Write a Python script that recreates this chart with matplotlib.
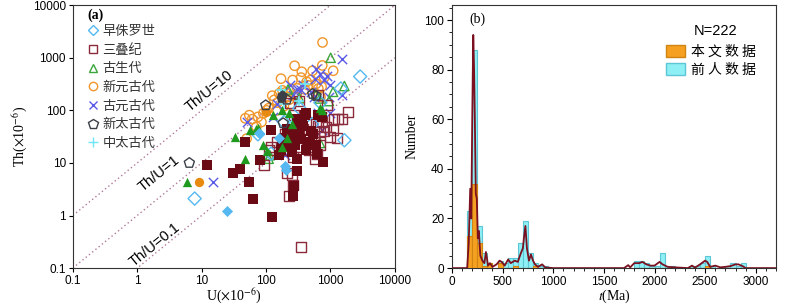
import matplotlib
matplotlib.use("Agg")
import matplotlib.pyplot as plt
from matplotlib.lines import Line2D
from matplotlib.patches import Patch
import matplotlib.ticker as mtick
import numpy as np

plt.rcParams['font.family'] = ['Liberation Sans', 'Noto Sans CJK SC', 'DejaVu Sans']
plt.rcParams['mathtext.fontset'] = 'stix'

cjk = ['Noto Sans CJK SC', 'DejaVu Sans']
serif = ['Liberation Serif', 'DejaVu Serif']

# ---- (a) Th vs U ----
jur_u = [7.8, 2900, 1650, 330, 1450, 190, 120, 75, 250, 520, 700]
jur_th = [2.1, 440, 27, 110, 260, 60, 15, 35, 40, 55, 140]
jur_f_u = [25, 200, 205, 78, 160]
jur_f_th = [1.2, 8.8, 7.5, 37, 30]

tri_u = [350, 225, 265, 255, 210, 92, 1900, 1500, 1300, 1150, 900, 1100, 1000, 1250, 570,
         620, 700, 800, 440, 500, 560, 380, 300, 260, 230, 190, 150, 120, 110, 330, 420,
         480, 650, 750, 850, 280, 200, 320, 640, 270, 240, 560, 700, 460]
tri_th = [0.25, 2.4, 3.8, 5.8, 6.4, 9.2, 93, 68, 68, 68, 126, 42, 31.6, 30, 12,
          15, 22, 40, 20, 25, 30, 45, 20, 13, 18, 22, 25, 20, 18, 40, 60,
          55, 50, 60, 48, 30, 35, 150, 200, 80, 140, 30, 38, 18]
tri_f_u = [12, 31, 40, 54, 62, 125, 48, 120, 80, 260, 270, 300, 305, 610, 780, 305, 420,
           730, 180, 200, 220, 240, 260, 280, 300, 330, 360, 400, 450, 500, 540, 650,
           170, 190, 230, 250, 280, 350, 380, 420, 480, 210, 320, 600, 160]
tri_f_th = [9, 6.3, 7.7, 4.4, 2.1, 0.95, 25, 42, 11.4, 2.3, 3.6, 6.9, 11.7, 15, 10.5, 68, 88,
            75, 25, 22, 35, 20, 30, 40, 55, 45, 60, 80, 25, 40, 35, 80,
            18, 30, 20, 16, 22, 28, 50, 18, 24, 45, 35, 22, 14]

pal_u = [1010, 1650, 680, 1100, 690, 110, 115, 950, 600, 220, 330]
pal_th = [1000, 290, 168, 225, 24, 12, 14, 150, 200, 250, 170]
pal_f_u = [6, 33, 48, 57, 76, 89, 105, 180, 210, 180, 730, 70, 130, 250, 230, 700]
pal_f_th = [4.4, 31.6, 12, 43, 45.6, 22, 17, 20, 30, 100, 100, 45, 80, 55, 90, 110]

neo_u = [755, 278, 171, 259, 360, 528, 748, 1105, 305, 428, 730, 125, 134, 47.7, 55, 61,
         91, 102, 71, 50, 255, 147, 200, 300, 400, 450, 600, 650, 220, 160, 230, 180,
         350, 500, 800, 240, 190, 150, 290, 700, 85, 75, 110]
neo_th = [1955, 705, 400, 377, 542, 566, 715, 566, 262, 350, 282, 190, 158, 70.5, 81, 68,
          88, 100, 49, 29, 41, 100, 220, 200, 250, 300, 320, 260, 180, 210, 160, 240,
          420, 380, 420, 130, 120, 140, 180, 180, 60, 75, 110]
neo_f_u = [9.2, 100]
neo_f_th = [4.4, 95]

pro_u = [1490, 235, 1530, 985, 50, 200, 200, 420, 750, 15.2, 600, 700, 900, 1000, 800, 580,
         500, 380, 300, 260, 150, 130, 550, 950, 650, 350]
pro_th = [929, 302, 195, 88, 61, 20, 14, 25, 42, 4.4, 600, 500, 450, 300, 380, 400,
          220, 300, 250, 200, 130, 75, 180, 180, 90, 240]

arc_u = [6.45, 99, 530, 185, 210, 600]
arc_th = [10, 125, 205, 57, 160, 190]
arc_f_u = [175, 180, 170]
arc_f_th = [190, 200, 175]

mes_u = [400, 170, 190, 320, 250]
mes_th = [320, 240, 130, 150, 60]

ratios = [10, 1, 0.1]
ratio_labels = ['Th/U=10', 'Th/U=1', 'Th/U=0.1']

# ---- (b) histogram, 50 Ma bins ----
bin_left = [150, 200, 250, 300, 350, 450, 500, 550, 600, 650, 700, 750, 800, 850, 900,
            1800, 1850, 1900, 1950, 2000, 2050, 2100, 2150, 2350, 2400, 2450, 2500, 2550,
            2700, 2750, 2800, 2850]
prev_cnt = [23, 88, 17, 6, 2, 3, 2, 4, 4, 10, 19, 6, 2, 1, 1,
            3, 3, 2, 1, 1, 6, 1, 1, 1, 1, 2, 5, 1,
            1, 2, 1, 2]
this_cnt = [13, 34, 10, 1, 2, 2, 0, 0, 1, 0, 0, 0, 1, 0, 0,
            0, 0, 0, 0, 0, 0, 0, 0, 0, 0, 0, 1, 0,
            0, 0, 0, 0]

curve_t = [0, 150, 165, 180, 190, 200, 210, 218, 225, 235, 245, 255, 265, 280, 300, 320, 335,
           345, 355, 375, 400, 440, 470, 490, 520, 555, 580, 620, 650, 680, 700, 710, 725,
           740, 760, 780, 800, 820, 850, 890, 920, 1000, 1700, 1740, 1760, 1800, 1850, 1880,
           1920, 1960, 2000, 2050, 2080, 2130, 2200, 2330, 2370, 2400, 2450, 2500, 2520,
           2550, 2600, 2650, 2700, 2750, 2800, 2830, 2870, 2900, 3200]
curve_n = [0, 0, 10, 32, 20, 60, 94, 80, 62, 30, 28, 12, 15, 5, 3, 2, 6.5,
           4, 1, 2, 0.5, 1.5, 3, 2.5, 1, 3.5, 2, 3, 2.5, 6, 8, 12, 17,
           8, 3, 5.5, 3, 1.5, 0.5, 1.5, 0.3, 0, 0, 1.2, 0.3, 2, 2, 2.5,
           1.5, 1, 1, 2.5, 1.5, 0.5, 0.3, 0, 1, 0.2, 1.5, 3, 2.5,
           0.5, 1, 0.3, 0.5, 0.8, 1.5, 1.5, 0.8, 0, 0]

fig = plt.figure(figsize=(8, 3.05), dpi=100)
ax1 = fig.add_axes([0.091, 0.121, 0.4025, 0.862])
ax2 = fig.add_axes([0.565, 0.121, 0.405, 0.862])

c_jur = '#55b8f0'
c_tri = '#8b2a3a'
c_tri_f = '#6a0a14'
c_pal = '#3aa63a'
c_pal_f = '#1f9a1f'
c_neo = '#f0962a'
c_pro = '#5a5ae6'
c_arc = '#3a3f48'
c_mes = '#6ee6f5'

ax1.set_xscale('log')
ax1.set_yscale('log')
ax1.set_xlim(0.1, 10000)
ax1.set_ylim(0.1, 10000)

xx = np.array([0.1, 10000])
for r in ratios:
    ax1.plot(xx, xx * r, linestyle=(0, (1, 2)), color='#b07a9a', lw=1.0, zorder=1)

ax1.text(13, 230, ratio_labels[0], rotation=39, ha='center', va='center', fontsize=10.5)
ax1.text(2.2, 6.2, ratio_labels[1], rotation=39, ha='center', va='center', fontsize=10.5)
ax1.text(1.9, 0.28, ratio_labels[2], rotation=39, ha='center', va='center', fontsize=10.5)

ms = 45
ax1.scatter(neo_u, neo_th, s=ms, facecolors='none', edgecolors=c_neo, linewidths=1.0, zorder=2)
ax1.scatter(pro_u, pro_th, s=ms, marker='x', color=c_pro, linewidths=1.0, zorder=2)
ax1.scatter(pal_u, pal_th, s=ms, marker='^', facecolors='none', edgecolors=c_pal, linewidths=1.0, zorder=2)
ax1.scatter(tri_u, tri_th, s=52, marker='s', facecolors='none', edgecolors=c_tri, linewidths=1.0, zorder=3)
ax1.scatter(jur_u, jur_th, s=ms, marker='D', facecolors='none', edgecolors=c_jur, linewidths=1.0, zorder=3)
ax1.scatter(mes_u, mes_th, s=ms, marker='+', color=c_mes, linewidths=1.2, zorder=3)
ax1.scatter(tri_f_u, tri_f_th, s=52, marker='s', color=c_tri_f, linewidths=0, zorder=4)
ax1.scatter(pal_f_u, pal_f_th, s=ms, marker='^', color=c_pal_f, linewidths=0, zorder=4)
ax1.scatter(jur_f_u, jur_f_th, s=32, marker='D', color=c_jur, linewidths=0, zorder=4)
ax1.scatter(neo_f_u, neo_f_th, s=ms, color='#e88a10', linewidths=0, zorder=4)
ax1.scatter(arc_u, arc_th, s=58, marker='p', facecolors='none', edgecolors=c_arc, linewidths=1.0, zorder=5)
ax1.scatter(arc_f_u, arc_f_th, s=58, marker='p', color=c_arc, linewidths=0, zorder=5)

ax1.xaxis.set_major_locator(mtick.LogLocator(base=10, numticks=10))
ax1.yaxis.set_major_locator(mtick.LogLocator(base=10, numticks=10))
ax1.xaxis.set_minor_locator(mtick.NullLocator())
ax1.yaxis.set_minor_locator(mtick.NullLocator())
fmt = mtick.FuncFormatter(lambda v, p: ('%g' % v))
ax1.xaxis.set_major_formatter(fmt)
ax1.yaxis.set_major_formatter(fmt)
ax1.tick_params(labelsize=8.5, length=3, width=0.8, pad=2)
ax1.set_xlabel(r'U($\times$10$^{-6}$)', family=serif, fontsize=10, labelpad=0)
ax1.set_ylabel(r'Th($\times$10$^{-6}$)', family=serif, fontsize=10, labelpad=2)
ax1.text(0.045, 0.96, '(a)', transform=ax1.transAxes, family=serif, fontweight='bold',
         fontsize=10, ha='left', va='center')

handles = [
    Line2D([], [], ls='none', marker='D', ms=5, mfc='none', mec=c_jur),
    Line2D([], [], ls='none', marker='s', ms=6, mfc='none', mec=c_tri),
    Line2D([], [], ls='none', marker='^', ms=6, mfc='none', mec=c_pal),
    Line2D([], [], ls='none', marker='o', ms=6, mfc='none', mec=c_neo),
    Line2D([], [], ls='none', marker='x', ms=6, color=c_pro),
    Line2D([], [], ls='none', marker='p', ms=7, mfc='none', mec=c_arc),
    Line2D([], [], ls='none', marker='+', ms=7, color=c_mes),
]
labels = ['早侏罗世', '三叠纪', '古生代', '新元古代', '古元古代', '新太古代', '中太古代']
leg = ax1.legend(handles, labels, loc='upper left', bbox_to_anchor=(0.045, 0.925),
                 frameon=False, prop={'family': cjk, 'size': 9.5},
                 handlelength=0.8, handletextpad=0.35, labelspacing=0.43,
                 borderaxespad=0, borderpad=0)
for t in leg.get_texts():
    t.set_color('#333333')

# ---- (b) ----
ax2.bar(bin_left, prev_cnt, width=50, align='edge', color='#8ef0f4', edgecolor='#5cc6d6',
        linewidth=0.8, zorder=2)
ax2.bar(bin_left, this_cnt, width=50, align='edge', color='#f5a020', edgecolor='#d08414',
        linewidth=0.8, zorder=3)
ax2.plot(curve_t, curve_n, color='#7b1020', lw=1.3, zorder=4)
ax2.set_xlim(0, 3200)
ax2.set_ylim(0, 106)
ax2.xaxis.set_major_locator(mtick.MultipleLocator(500))
ax2.xaxis.set_minor_locator(mtick.MultipleLocator(100))
ax2.yaxis.set_major_locator(mtick.MultipleLocator(20))
ax2.yaxis.set_minor_locator(mtick.MultipleLocator(5))
ax2.tick_params(which='major', labelsize=8.5, length=3.5, width=0.8, pad=2)
ax2.tick_params(which='minor', length=2, width=0.6)
ax2.set_xlabel(r'$t$(Ma)', family=serif, fontsize=10, labelpad=0)
ax2.set_ylabel('Number', family=serif, fontsize=10, labelpad=4)
ax2.text(0.055, 0.945, '(b)', transform=ax2.transAxes, family=serif, fontsize=10,
         ha='left', va='center')
ax2.text(0.745, 0.9, 'N=222', transform=ax2.transAxes, fontsize=10.5, ha='left', va='center')
ax2.legend([Patch(facecolor='#f5a020', edgecolor='#d08414'),
            Patch(facecolor='#8ef0f4', edgecolor='#5cc6d6')],
           ['本 文 数 据', '前 人 数 据'], loc='upper left', bbox_to_anchor=(0.66, 0.85),
           frameon=False, prop={'family': cjk, 'size': 10},
           handlelength=1.4, handleheight=1.0, handletextpad=0.4, labelspacing=0.3,
           borderaxespad=0, borderpad=0)

for ax in (ax1, ax2):
    for s in ax.spines.values():
        s.set_linewidth(0.8)
        s.set_color('#333333')

fig.savefig('out.png', dpi=100)
